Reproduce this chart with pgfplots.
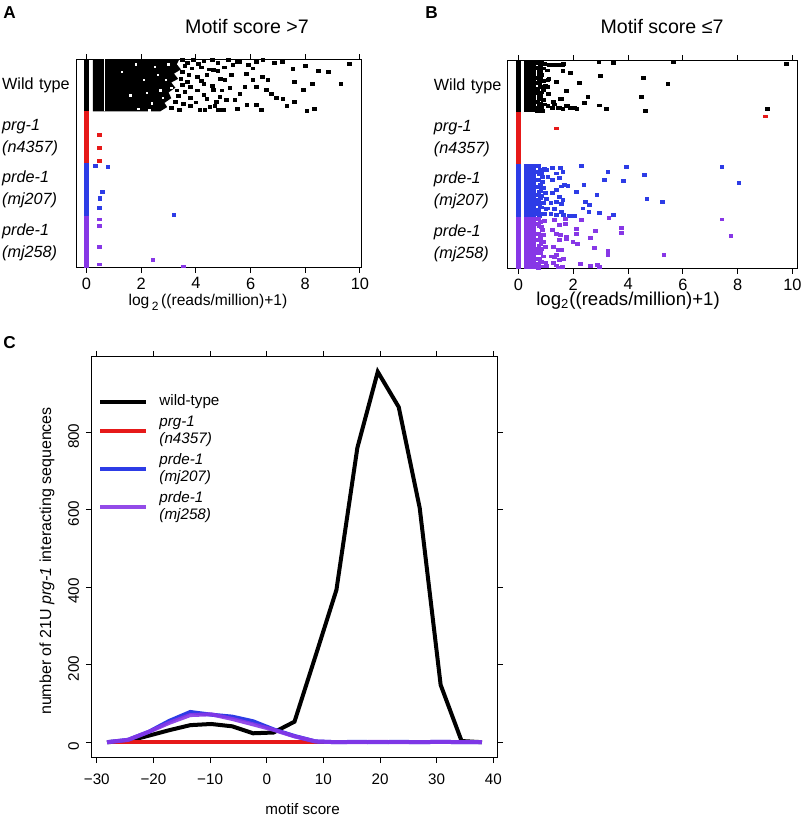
\documentclass[border=0pt]{standalone}
\usepackage{fontspec}
\setmainfont{Liberation Sans}
\usepackage{pgfplots}
\pgfplotsset{compat=1.18}

\definecolor{prgred}{RGB}{230,25,25}
\definecolor{mjblue}{RGB}{45,60,230}
\definecolor{mjpurple}{RGB}{135,55,230}

\pgfplotsset{
  strip/.style={
    scale only axis, height=104.5pt,
    ymin=0, ymax=4,
    xtick={0,2,...,10},
    ytick={0.5,1.5,2.5,3.5},
    yticklabels={{\textit{prde-1}\\\textit{(mj258)}},{\textit{prde-1}\\\textit{(mj207)}},{\textit{prg-1}\\\textit{(n4357)}},{Wild type}},
    yticklabel style={font=\fontsize{8.1}{11}\selectfont, align=left, text width=34pt, anchor=east, inner sep=0pt, xshift=-0.2pt},
    ytick style={draw=none},
    tick align=outside, major tick length=2.5pt,
    xtick style={black, line width=0.5pt},
    axis line style={line width=0.5pt},
    xticklabel style={font=\fontsize{8.2}{9}\selectfont, yshift=1.2pt},
    /pgf/number format/assume math mode=true,
  },
  pt/.style={only marks, mark=square*, color=#1, mark size=0.9pt, mark options={yscale=0.8}},
  bar0/.style={#1, line width=2.4pt, forget plot},
}

\begin{document}
\begin{tikzpicture}
\path[use as bounding box] (0,0) rectangle (400pt,408pt);

% panel labels and titles
\node[anchor=west, inner sep=0pt, font=\bfseries\fontsize{8.6}{10}\selectfont] at (1.5pt,401.5pt) {A};
\node[anchor=west, inner sep=0pt, font=\bfseries\fontsize{8.6}{10}\selectfont] at (212.5pt,401.5pt) {B};
\node[anchor=west, inner sep=0pt, font=\bfseries\fontsize{8.6}{10}\selectfont] at (1.5pt,236.5pt) {C};
\node[font=\fontsize{9.8}{12}\selectfont] at (123.5pt,395pt) {Motif score >7};
\node[font=\fontsize{9.8}{12}\selectfont] at (331pt,395pt) {Motif score ≤7};

%----------------- A
\begin{axis}[strip, at={(38pt,274pt)}, anchor=south west, width=142.5pt,
  xmin=-0.386, xmax=10.04,
  xlabel={log\,{\fontsize{6}{6}\selectfont\raisebox{-0.7ex}{2}}\,((reads/million)+1)},
  xlabel style={at={(axis description cs:0.463,-0.165)}, anchor=center, font=\fontsize{7.8}{9}\selectfont}]
\addplot[bar0=black] coordinates {(0,3) (0,4)};
\addplot[bar0=prgred] coordinates {(0,2) (0,3)};
\addplot[bar0=mjblue] coordinates {(0,1) (0,2)};
\addplot[bar0=mjpurple] coordinates {(0,0) (0,1)};
% dense core of wild type
\addplot[fill=black, draw=none] coordinates {
 (0.23,3.0) (0.23,4) (3.4,4) (3.3,3.9) (3.45,3.8) (3.2,3.72) (3.35,3.62) (3.1,3.55)
 (3.25,3.45) (3.0,3.36) (3.1,3.25) (2.85,3.16) (2.95,3.08) (2.7,3.0)};
\addplot[white, line width=0.4pt] coordinates {(0.66,3) (0.66,4)};
\addplot[only marks, mark=square*, white, mark size=0.35pt] coordinates {
 (1.6,3.3)(2.1,3.6)(2.5,3.85)(2.7,3.4)(2.9,3.6)(2.4,3.15)(1.9,3.05)(3.0,3.9)(2.6,3.7)
 (2.2,3.35)(1.3,3.75)(2.8,3.25)(3.1,3.45)(1.8,3.9)(2.3,3.02)};
\addplot[pt=black] coordinates {
 (3.5,3.99)(3.7,3.93)(3.9,3.98)(4.1,3.91)(4.3,3.96)(4.6,3.99)(4.8,3.93)(5.2,3.98)(5.5,3.94)
 (3.6,3.86)(3.85,3.82)(4.2,3.84)(4.5,3.8)(4.8,3.78)(3.5,3.76)(3.75,3.7)(4.05,3.66)(4.4,3.7)
 (3.45,3.62)(3.7,3.57)(4.2,3.58)(3.5,3.5)(3.8,3.47)(4.3,3.52)(3.3,3.4)(3.6,3.37)(4.05,3.4)
 (3.35,3.3)(3.8,3.26)(4.3,3.32)(3.25,3.18)(3.55,3.14)(4.0,3.17)(3.1,3.06)(3.4,3.02)(3.8,3.1)
 (4.4,3.24)(4.6,3.48)(4.9,3.62)(5.05,3.84)(4.7,3.1)(4.95,3.4)
 (9.61,3.90)(9.31,3.52)(8.85,3.76)(8.49,3.77)(8.27,3.52)(8.34,3.04)(8.06,3.01)(7.94,3.41)
 (8.01,3.87)(7.61,3.18)(7.55,3.81)(7.61,3.57)(7.33,3.10)(7.18,3.23)(7.16,3.95)(6.94,3.25)
 (6.88,3.93)(6.76,3.34)(6.58,3.41)(6.64,3.60)(6.45,3.98)(6.40,3.02)(6.43,3.65)(6.21,3.95)
 (6.21,3.47)(6.21,3.12)(6.09,3.60)(5.85,3.71)(5.79,3.47)(5.87,3.12)(5.61,3.33)(5.51,3.04)
 (5.42,3.22)(5.24,3.44)(5.30,3.69)(5.06,3.60)(5.00,3.02)(4.82,3.02)(4.88,3.28)(5.12,3.22)
 (4.76,3.18)(5.36,3.89)(5.61,3.95)(5.91,3.89)(6.09,3.82)(4.64,3.41)(4.51,3.09)(4.33,3.02)
 (4.15,3.02)(4.64,3.79)};
\addplot[pt=prgred] coordinates {(0.47,2.545)(0.47,2.30)(0.47,2.05)};
\addplot[pt=mjblue] coordinates {(0.33,1.96)(0.78,1.93)(0.57,1.46)(0.49,1.35)(0.49,1.32)(0.47,1.15)(3.20,1.01)};
\addplot[pt=mjpurple] coordinates {(0.47,0.93)(0.47,0.80)(0.47,0.40)(2.43,0.15)(0.47,0.07)(3.54,0.03)};
\end{axis}

%----------------- B
\begin{axis}[strip, at={(253.85pt,273.5pt)}, anchor=south west, width=145pt,
  xmin=-0.392, xmax=10.19,
  xlabel={log\textsubscript{2}((reads/million)+1)},
  xlabel style={at={(axis description cs:0.415,-0.15)}, anchor=center, font=\fontsize{9.3}{10}\selectfont}]
\addplot[bar0=black] coordinates {(0,3) (0,4)};
\addplot[bar0=prgred] coordinates {(0,2) (0,3)};
\addplot[bar0=mjblue] coordinates {(0,1) (0,2)};
\addplot[bar0=mjpurple] coordinates {(0,0) (0,1)};
\addplot[fill=black, draw=none] coordinates {(0.22,3)(0.22,4)(0.65,4)(0.65,3)};
\addplot[fill=mjblue, draw=none] coordinates {(0.22,1)(0.22,2)(0.65,2)(0.65,1)};
\addplot[fill=mjpurple, draw=none] coordinates {(0.22,0)(0.22,1)(0.65,1)(0.65,0)};
\addplot[pt=black] coordinates {
 (0.72,3.95)(0.8,3.88)(0.75,3.8)(0.85,3.72)(0.72,3.65)(0.9,3.6)(0.78,3.52)(0.7,3.45)
 (0.86,3.38)(0.75,3.3)(0.92,3.24)(0.8,3.16)(0.72,3.08)(0.88,3.03)(0.95,3.93)(0.98,3.5)
 (0.96,3.15)(0.7,3.2)(0.76,3.6)(0.83,3.05)(0.72,3.85)(0.84,3.96)(0.9,3.84)(0.74,3.73)
 (0.82,3.66)(0.72,3.56)(0.88,3.48)(0.72,3.37)(0.8,3.32)(0.74,3.25)(0.86,3.12)(0.74,3.14)
 (0.7,3.02)(0.9,3.42)(0.82,3.77)
 (2.93,3.96)(3.47,3.94)(5.66,3.96)(9.78,3.92)(1.13,3.91)(1.38,3.91)(1.62,3.91)(1.62,3.79)
 (1.90,3.75)(1.11,3.64)(2.23,3.57)(3.0,3.69)(4.57,3.66)(5.46,3.54)(1.38,3.58)(1.07,3.48)
 (1.74,3.41)(2.53,3.29)(1.53,3.25)(4.48,3.29)(1.28,3.20)(2.41,3.18)(2.96,3.13)(3.20,3.06)
 (1.74,3.12)(1.89,3.09)(2.13,3.06)(1.25,3.08)(1.50,3.09)(1.07,3.12)(4.64,3.03)(9.09,3.06)
 (1.32,3.90)(1.50,3.90)(1.65,3.92)(1.07,3.62)(2.05,3.09)(1.80,3.12)(1.62,3.07)(1.44,3.09)
 (1.32,3.15)(1.56,3.26)(1.05,3.8)(1.1,3.35)};
\addplot[pt=prgred] coordinates {(1.38,2.69)(9.02,2.92)};
\addplot[pt=mjblue] coordinates {
 (0.72,1.97)(0.8,1.9)(0.75,1.82)(0.88,1.76)(0.72,1.7)(0.8,1.62)(0.9,1.55)(0.74,1.48)
 (0.85,1.4)(0.72,1.33)(0.9,1.27)(0.78,1.2)(0.72,1.13)(0.86,1.06)(0.76,1.02)(0.95,1.92)
 (0.98,1.45)(1.0,1.15)(0.72,1.86)(0.84,1.84)(0.72,1.57)(0.82,1.5)(0.72,1.42)(0.8,1.36)
 (0.72,1.24)(0.84,1.18)(0.72,1.06)(0.88,1.66)
 (1.53,1.93)(1.62,1.85)(1.38,1.83)(1.23,1.93)(1.01,1.89)(1.07,1.77)(1.25,1.70)(1.50,1.74)
 (1.68,1.61)(1.80,1.59)(1.56,1.58)(1.38,1.51)(1.25,1.45)(1.50,1.38)(1.62,1.32)(1.38,1.29)
 (1.19,1.26)(1.01,1.35)(1.07,1.16)(1.32,1.15)(1.56,1.25)(1.56,1.10)(1.38,1.03)(1.19,1.06)
 (0.95,1.06)(1.86,1.02)(2.04,1.01)(1.65,1.03)
 (2.29,1.98)(3.93,1.96)(7.43,1.96)(3.26,1.86)(4.60,1.80)(3.14,1.70)(3.84,1.69)(8.05,1.65)
 (2.39,1.61)(2.11,1.47)(2.86,1.42)(4.69,1.35)(5.25,1.28)(2.44,1.29)(2.59,1.23)(2.35,1.16)
 (2.57,1.09)(2.96,1.07)(3.47,1.03)};
\addplot[pt=mjpurple] coordinates {
 (0.72,0.96)(0.8,0.9)(0.75,0.82)(0.88,0.75)(0.72,0.68)(0.8,0.6)(0.9,0.52)(0.74,0.45)
 (0.85,0.38)(0.72,0.3)(0.9,0.24)(0.78,0.17)(0.72,0.1)(0.86,0.05)(0.95,0.92)(0.98,0.42)
 (1.0,0.12)(0.72,0.86)(0.84,0.8)(0.72,0.56)(0.82,0.48)(0.72,0.38)(0.8,0.3)(0.72,0.2)
 (0.86,0.14)(0.72,0.02)(0.9,0.66)
 (1.32,0.94)(1.50,0.84)(1.25,0.75)(1.38,0.68)(1.74,0.62)(1.50,0.55)(1.28,0.43)(1.56,0.36)
 (1.38,0.27)(1.19,0.24)(1.50,0.18)(1.28,0.12)(1.01,0.06)(1.44,0.03)(1.60,0.04)
 (7.43,0.95)(7.75,0.64)(3.75,0.79)(3.75,0.69)(3.30,0.97)(2.80,0.73)(2.78,0.40)(3.26,0.35)
 (3.26,0.27)(5.31,0.27)(2.27,0.09)(2.63,0.06)(2.88,0.08)(2.96,0.04)(2.11,0.76)(2.11,0.68)
 (2.63,0.59)(1.99,0.52)(2.15,0.48)(1.74,0.58)(2.29,0.94)(1.72,0.96)(1.72,0.87)(1.54,0.65)
 (1.65,0.20)(1.38,0.07)(1.32,0.23)(1.44,0.36)};
\end{axis}

%----------------- C
\begin{axis}[at={(46pt,29.5pt)}, anchor=south west, scale only axis,
  width=202.5pt, height=200pt,
  xmin=-30.85, xmax=40.65, ymin=-38.2, ymax=994.2,
  xtick={-30,-20,...,40},
  xticklabels={−30,−20,−10,0,10,20,30,40},
  ytick={0,200,...,800},
  tick align=outside, major tick length=3pt,
  tick style={black, line width=0.5pt},
  axis line style={line width=0.5pt},
  /pgf/number format/assume math mode=true,
  ticklabel style={font=\fontsize{7.6}{9}\selectfont},
  xticklabel style={yshift=-2pt},
  yticklabel style={rotate=90, anchor=south, xshift=-2pt},
  xlabel={motif score},
  xlabel style={at={(axis description cs:0.52,-0.13)}, anchor=center, font=\fontsize{7.6}{9}\selectfont},
  ylabel={number of 21U \textit{prg-1} interacting sequences},
  ylabel style={at={(axis description cs:-0.111,0.49)}, anchor=center, font=\fontsize{8}{9}\selectfont},
  legend cell align=left,
  legend style={at={(axis description cs:0.015,0.912)}, anchor=north west, draw=none, fill=none,
    inner sep=0pt, row sep=1.6pt,
    nodes={align=left, font=\fontsize{7.6}{8.4}\selectfont, inner sep=1pt}},
  legend image code/.code={\draw[#1, line width=2pt] (0pt,0pt) -- (23pt,0pt); \path (27.5pt,0pt);},
]
\addplot[black, line width=2pt] coordinates {
 (-28.2,0)(-24.5,3)(-20.8,17)(-17.2,31)(-13.5,44)(-9.8,47)(-6.1,41)(-2.4,23)(1.2,25)
 (4.9,53)(8.6,222)(12.3,393)(16.0,760)(19.6,956)(23.3,865)(27.0,605)(30.7,148)(34.4,3)(38.0,0)};
\addlegendentry{wild-type}
\addplot[prgred, line width=2pt] coordinates {
 (-28.2,0)(-24.5,0)(-20.8,0)(-17.2,0)(-13.5,0)(-9.8,0)(-6.1,0)(-2.4,0)(1.2,0)
 (4.9,0)(8.6,0)(12.3,0)(16.0,0)(19.6,0)(23.3,0)(27.0,0)(30.7,0)(34.4,0)(38.0,0)};
\addlegendentry{\textit{prg-1}\\\textit{(n4357)}}
\addplot[mjblue, line width=2pt] coordinates {
 (-28.2,0)(-24.5,6)(-20.8,27)(-17.2,55)(-13.5,78)(-9.8,71)(-6.1,66)(-2.4,54)(1.2,33)
 (4.9,16)(8.6,2)(12.3,0)(16.0,1)(19.6,0)(23.3,1)(27.0,0)(30.7,1)(34.4,0)(38.0,0)};
\addlegendentry{\textit{prde-1}\\\textit{(mj207)}}
\addplot[mjpurple, line width=2pt, opacity=0.9] coordinates {
 (-28.2,0)(-24.5,6)(-20.8,27)(-17.2,50)(-13.5,70)(-9.8,72)(-6.1,60)(-2.4,46)(1.2,32)
 (4.9,15)(8.6,2)(12.3,0)(16.0,0)(19.6,1)(23.3,0)(27.0,0)(30.7,1)(34.4,0)(38.0,0)};
\addlegendentry{\textit{prde-1}\\\textit{(mj258)}}
\end{axis}
\end{tikzpicture}
\end{document}
